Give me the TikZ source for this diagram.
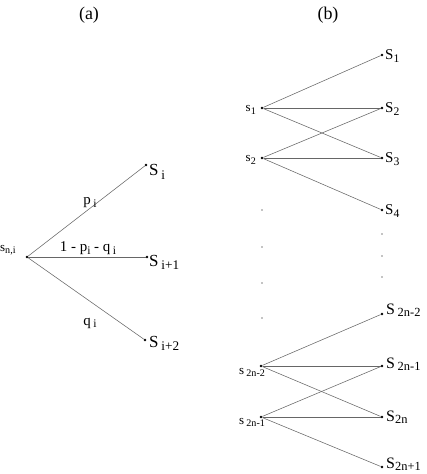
\documentclass[tikz,border=0pt]{standalone}
\usepackage{fontspec}
\setmainfont{Liberation Serif}
\newcommand{\lsub}[1]{\raisebox{-0.4ex}{\scalebox{0.78}{#1}}}
\begin{document}
\begin{tikzpicture}[x=1bp,y=-1bp,
  pt/.style={circle,fill=black,inner sep=0pt,minimum size=2.6bp},
  tiny/.style={circle,fill=black,inner sep=0pt,minimum size=1.3bp},
  edge/.style={draw=black!60,line width=0.55bp},
  title/.style={font=\fontsize{18}{18}\selectfont,inner sep=0pt},
  bigS/.style={font=\fontsize{17}{17}\selectfont,inner sep=0pt},
  midS/.style={font=\fontsize{15}{15}\selectfont,inner sep=0pt},
  lowS/.style={font=\fontsize{16}{16}\selectfont,inner sep=0pt},
  smalls/.style={font=\fontsize{13}{13}\selectfont,inner sep=0pt},
  prob/.style={font=\fontsize{15}{15}\selectfont,inner sep=0pt}]
\useasboundingbox (0,0) rectangle (426,474);
% titles
\node[title] (ta) at (89,15) {(a)};
\node[title] (tb) at (328,15) {(b)};
% ---------- (a)
\node[pt] (src) at (27,257) {};
\node[pt] (ai) at (146,165) {};
\node[pt] (ai1) at (147,257) {};
\node[pt] (ai2) at (145,340) {};
\draw[edge] (src) -- (ai);
\draw[edge] (src) -- (ai1);
\draw[edge] (src) -- (ai2);
\node[smalls,anchor=base west] (lsrc) at (0,251) {s\lsub{n,i}};
\node[bigS,anchor=base west] (lai) at (149,176) {S\,\lsub{i}};
\node[bigS,anchor=base west] (lai1) at (149,266) {S\,\lsub{i+1}};
\node[bigS,anchor=base west] (lai2) at (149,347) {S\,\lsub{i+2}};
\node[prob] (pp) at (90,203) {p\,\lsub{i}};
\node[prob] (pm) at (88,248) {1 - p\lsub{i} - q\,\lsub{i}};
\node[prob] (pq) at (90,323) {q\,\lsub{i}};
% ---------- (b) top
\node[pt] (s1) at (262,108) {};
\node[pt] (s2) at (262,158) {};
\node[pt] (T1) at (382,55) {};
\node[pt] (T2) at (382,108) {};
\node[pt] (T3) at (382,158) {};
\node[pt] (T4) at (382,210) {};
\draw[edge] (s1) -- (T1);
\draw[edge] (s1) -- (T2);
\draw[edge] (s1) -- (T3);
\draw[edge] (s2) -- (T2);
\draw[edge] (s2) -- (T3);
\draw[edge] (s2) -- (T4);
\node[smalls,anchor=base east] (ls1) at (256,112) {s\lsub{1}};
\node[smalls,anchor=base east] (ls2) at (256,162) {s\lsub{2}};
\node[midS,anchor=base west] (lT1) at (385,60) {S\lsub{1}};
\node[midS,anchor=base west] (lT2) at (385,113) {S\lsub{2}};
\node[midS,anchor=base west] (lT3) at (385,163) {S\lsub{3}};
\node[midS,anchor=base west] (lT4) at (385,215) {S\lsub{4}};
% vertical dots
\node[tiny] (d1) at (262,210) {};
\node[tiny] (d2) at (262,247) {};
\node[tiny] (d3) at (262,283) {};
\node[tiny] (d4) at (262,318) {};
\node[tiny] (e1) at (382,234) {};
\node[tiny] (e2) at (382,256) {};
\node[tiny] (e3) at (382,277) {};
% ---------- (b) bottom
\node[pt] (r1) at (261,366) {};
\node[pt] (r2) at (261,417) {};
\node[pt] (U1) at (382,314) {};
\node[pt] (U2) at (382,366) {};
\node[pt] (U3) at (382,417) {};
\node[pt] (U4) at (382,467) {};
\draw[edge] (r1) -- (U1);
\draw[edge] (r1) -- (U2);
\draw[edge] (r1) -- (U3);
\draw[edge] (r2) -- (U2);
\draw[edge] (r2) -- (U3);
\draw[edge] (r2) -- (U4);
\node[smalls,anchor=base west] (lr1) at (239,374) {s\,\lsub{2n-2}};
\node[smalls,anchor=base west] (lr2) at (239,424) {s\,\lsub{2n-1}};
\node[lowS,anchor=base west] (lU1) at (386,314) {S\,\lsub{2n-2}};
\node[lowS,anchor=base west] (lU2) at (386,368) {S\,\lsub{2n-1}};
\node[lowS,anchor=base west] (lU3) at (386,421) {S\lsub{2n}};
\node[lowS,anchor=base west] (lU4) at (386,468) {S\lsub{2n+1}};
\end{tikzpicture}
\end{document}
